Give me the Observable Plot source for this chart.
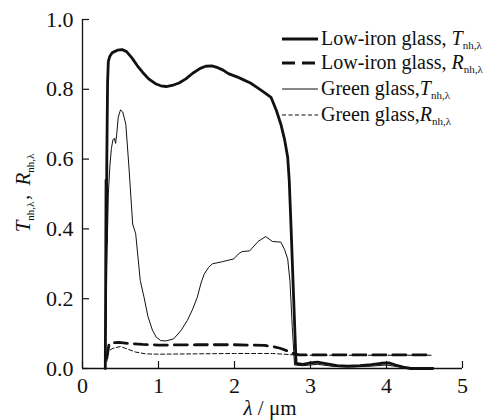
<!DOCTYPE html>
<html>
<head>
<meta charset="utf-8">
<script src="https://cdn.jsdelivr.net/npm/d3@7"></script>
<script src="https://cdn.jsdelivr.net/npm/@observablehq/plot@0.6"></script>
<style>
  html, body { margin: 0; padding: 0; background: #fff; }
  #chart { width: 495px; height: 420px; }
</style>
</head>
<body>
<div id="chart"></div>
<script>
// ---- data ----
const xTicks = [0, 1, 2, 3, 4, 5];
const yTicks = [0, 0.2, 0.4, 0.6, 0.8, 1.0];

const lowIronT_x = [0.30,0.305,0.31,0.315,0.32,0.33,0.34,0.36,0.39,0.42,0.46,0.52,0.58,0.65,0.72,0.79,0.87,0.96,1.03,1.10,1.18,1.27,1.36,1.45,1.55,1.62,1.70,1.78,1.85,1.92,2.04,2.12,2.21,2.30,2.40,2.48,2.55,2.61,2.66,2.70,2.72,2.745,2.77,2.81,2.90,3.00,3.09,3.20,3.35,3.49,3.65,3.80,3.93,4.03,4.12,4.22,4.32,4.61];
const lowIronT_y = [0.00,0.25,0.54,0.36,0.60,0.82,0.88,0.895,0.905,0.908,0.912,0.914,0.908,0.89,0.868,0.849,0.830,0.816,0.810,0.808,0.811,0.818,0.830,0.846,0.860,0.866,0.867,0.862,0.855,0.845,0.835,0.827,0.818,0.805,0.790,0.777,0.74,0.70,0.655,0.605,0.54,0.40,0.25,0.015,0.012,0.016,0.018,0.014,0.008,0.007,0.008,0.011,0.015,0.016,0.010,0.004,0.0,0.0];

const lowIronR_x = [0.32,0.35,0.40,0.48,0.60,0.79,1.00,1.50,2.00,2.20,2.40,2.50,2.60,2.70,2.76,2.85,3.50,4.61];
const lowIronR_y = [0.03,0.071,0.074,0.075,0.072,0.069,0.067,0.068,0.068,0.067,0.066,0.063,0.058,0.050,0.044,0.039,0.039,0.039];

const greenT_x = [0.30,0.31,0.32,0.33,0.34,0.36,0.38,0.40,0.42,0.435,0.45,0.47,0.50,0.53,0.57,0.61,0.66,0.70,0.76,0.81,0.86,0.92,0.97,1.03,1.10,1.20,1.30,1.38,1.45,1.51,1.56,1.60,1.66,1.71,1.84,1.99,2.05,2.10,2.20,2.31,2.41,2.50,2.61,2.66,2.70,2.73,2.76,2.79,2.90,3.09,3.30,3.50,3.75,4.00,4.15,4.30,4.60];
const greenT_y = [0.00,0.15,0.30,0.40,0.50,0.58,0.63,0.655,0.660,0.645,0.67,0.72,0.741,0.735,0.70,0.58,0.414,0.386,0.252,0.204,0.150,0.110,0.090,0.080,0.079,0.085,0.110,0.138,0.170,0.204,0.245,0.270,0.290,0.300,0.306,0.314,0.328,0.335,0.337,0.364,0.378,0.364,0.362,0.340,0.314,0.25,0.12,0.010,0.008,0.012,0.006,0.004,0.006,0.010,0.005,0.0,0.0];

const greenR_x = [0.32,0.34,0.40,0.50,0.60,0.70,0.83,1.00,1.50,2.00,2.50,2.72,2.85,4.61];
const greenR_y = [0.02,0.050,0.058,0.063,0.055,0.047,0.042,0.041,0.042,0.043,0.043,0.040,0.038,0.038];

const seriesNames = ["Low-iron glass, ", "Low-iron glass, ", "Green glass,", "Green glass,"];
const seriesSymbols = ["T", "R", "T", "R"];
const subText = "nh,λ";
const xLabelSym = "λ";
const xLabelUnit = " / μm";

// ---- layout / styles ----
const W = 495, H = 420;
const mL = 82, mR = 33, mT = 19, mB = 52;
const plotW = W - mL - mR, plotH = H - mT - mB;
const FONT = "'Liberation Serif', 'Times New Roman', serif";

const styles = [
  {strokeWidth: 2.8, dash: null},
  {strokeWidth: 2.8, dash: "13,7"},
  {strokeWidth: 1, dash: null},
  {strokeWidth: 1, dash: "4,2.5"}
];

const toRows = (xs, ys) => xs.map((x, i) => ({x, y: ys[i]}));
const series = [
  toRows(lowIronT_x, lowIronT_y),
  toRows(lowIronR_x, lowIronR_y),
  toRows(greenT_x, greenT_y),
  toRows(greenR_x, greenR_y)
];

const lineMarks = series.map((rows, i) => Plot.line(rows, {
  x: "x", y: "y", stroke: "#111",
  strokeWidth: styles[i].strokeWidth,
  strokeDasharray: styles[i].dash,
  strokeLinejoin: "round"
}));

const chart = Plot.plot({
  width: W, height: H,
  marginLeft: mL, marginRight: mR, marginTop: mT, marginBottom: mB,
  style: {fontFamily: FONT, background: "#fff", color: "#111", overflow: "visible"},
  x: {domain: [0, 5], label: null},
  y: {domain: [0, 1], label: null},
  marks: [
    Plot.axisX(xTicks, {tickSize: 0, tickPadding: 9, fontSize: 22, tickFormat: d => String(d), fill: "#111"}),
    Plot.axisY(yTicks, {tickSize: 0, tickPadding: 9, fontSize: 22, tickFormat: d3.format(".1f"), fill: "#111"}),
    Plot.ruleY(yTicks, {stroke: "#111", strokeWidth: 1.2, insetRight: plotW - 7}),
    Plot.ruleX(xTicks, {stroke: "#111", strokeWidth: 1.2, insetTop: plotH - 7}),
    Plot.ruleX([0], {stroke: "#111", strokeWidth: 1.3}),
    Plot.ruleY([0], {stroke: "#111", strokeWidth: 1.3}),
    ...lineMarks
  ]
});

const svg = d3.select(chart);

// legend
const legX1 = 282, legX2 = 318, legTextX = 321;
const legBase = [45, 69, 95, 121];
const leg = svg.append("g").attr("font-family", FONT).attr("fill", "#111").attr("text-anchor", "start");
seriesNames.forEach((name, i) => {
  leg.append("line")
    .attr("x1", legX1).attr("x2", legX2)
    .attr("y1", legBase[i] - 6).attr("y2", legBase[i] - 6)
    .attr("stroke", "#111")
    .attr("stroke-width", styles[i].strokeWidth)
    .attr("stroke-dasharray", styles[i].dash);
  const t = leg.append("text").attr("x", legTextX).attr("y", legBase[i]).attr("font-size", 20).attr("text-anchor", "start");
  t.append("tspan").text(name);
  t.append("tspan").attr("font-style", "italic").text(seriesSymbols[i]);
  t.append("tspan").attr("font-size", 11).attr("dy", 4).text(subText);
});

// x label
const xl = svg.append("text")
  .attr("x", 270).attr("y", 415)
  .attr("text-anchor", "middle")
  .attr("font-family", FONT).attr("font-size", 21).attr("fill", "#111");
xl.append("tspan").attr("font-style", "italic").text(xLabelSym);
xl.append("tspan").text(xLabelUnit);

// y label
const yl = svg.append("text")
  .attr("transform", "translate(30,193) rotate(-90)")
  .attr("text-anchor", "middle")
  .attr("font-family", FONT).attr("font-size", 21).attr("fill", "#111");
yl.append("tspan").attr("font-style", "italic").text(seriesSymbols[0]);
yl.append("tspan").attr("font-size", 11).attr("dy", 4).text(subText);
yl.append("tspan").attr("dy", -4).attr("font-family", "'Noto Sans CJK SC'").attr("font-size", 16).text("，");
yl.append("tspan").attr("font-style", "italic").text(seriesSymbols[1]);
yl.append("tspan").attr("font-size", 11).attr("dy", 4).text(subText);

document.getElementById("chart").appendChild(chart);
</script>
</body>
</html>
